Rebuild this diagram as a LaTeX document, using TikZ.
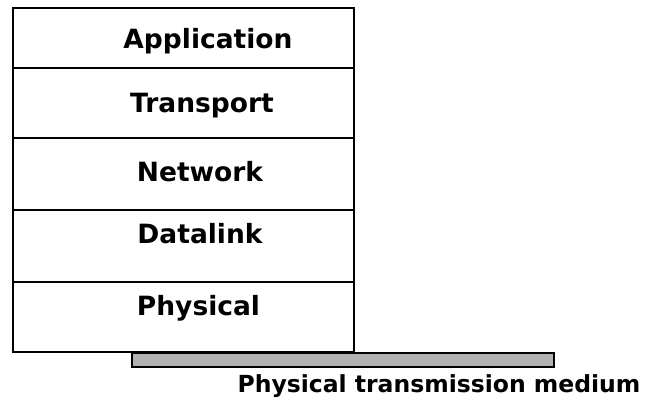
\documentclass[tikz,border=0pt]{standalone}
\usepackage{fontspec}
\setmainfont{DejaVu Sans}
\begin{document}
\begin{tikzpicture}[x=1pt,y=-1pt,
  layerbox/.style={draw=black, line width=2pt, fill=white, rectangle, inner sep=0pt, minimum width=341pt},
  layertext/.style={font=\bfseries\fontsize{26.5}{30}\selectfont, inner sep=0pt, anchor=base},
  medium/.style={draw=black, line width=1.5pt, fill=black!30, rectangle, inner sep=0pt},
  mediumtext/.style={font=\bfseries\fontsize{23.5}{27}\selectfont, inner sep=0pt, anchor=base}]
\useasboundingbox (0,0) rectangle (645,399);
% medium bar
\node[medium, minimum width=422pt, minimum height=14pt] (bar) at (343,360) {};
% layers
\node[layerbox, minimum height=60pt] (app) at (183,38) {};
\node[layerbox, minimum height=70pt] (tra) at (183,103) {};
\node[layerbox, minimum height=72pt] (net) at (183,174) {};
\node[layerbox, minimum height=72pt] (dat) at (183,246) {};
\node[layerbox, minimum height=70pt] (phy) at (183,317) {};
\node[layertext] (tapp) at (208,48) {Application};
\node[layertext] (ttra) at (202,112) {Transport};
\node[layertext] (tnet) at (200,181.5) {Network};
\node[layertext] (tdat) at (200,243) {Datalink};
\node[layertext] (tphy) at (198.5,315) {Physical};
\node[mediumtext] (tmed) at (439,392) {Physical transmission medium};
\end{tikzpicture}
\end{document}
